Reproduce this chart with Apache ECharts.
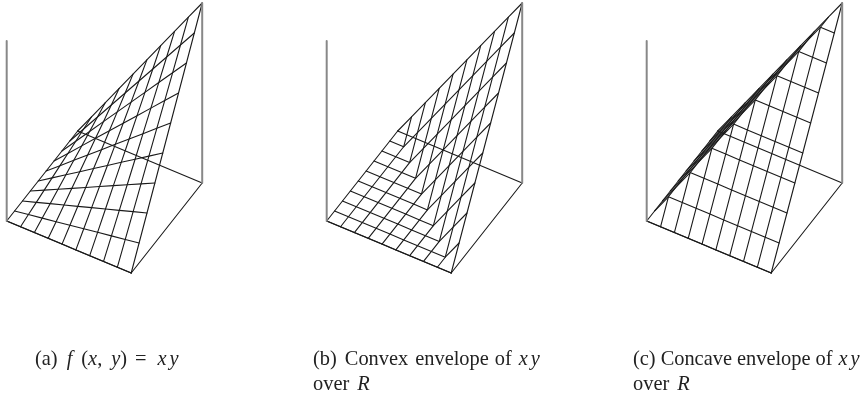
<!DOCTYPE html>
<html>
<head>
<meta charset="utf-8">
<style>html,body{margin:0;padding:0;background:#fff}#chart{width:864px;height:397px}</style>
<script src="https://cdn.jsdelivr.net/npm/echarts@6/dist/echarts.min.js"></script>
</head>
<body>
<div id="chart"></div>
<script>
// grid steps along each edge of the square R, 0..9
var steps = [0, 1, 2, 3, 4, 5, 6, 7, 8, 9]

// surface heights read per grid node, rows by y step, columns by x step
var productZ = [
  [0, 0, 0, 0, 0, 0, 0, 0, 0, 0],
  [0, 1, 2, 3, 4, 5, 6, 7, 8, 9],
  [0, 2, 4, 6, 8, 10, 12, 14, 16, 18],
  [0, 3, 6, 9, 12, 15, 18, 21, 24, 27],
  [0, 4, 8, 12, 16, 20, 24, 28, 32, 36],
  [0, 5, 10, 15, 20, 25, 30, 35, 40, 45],
  [0, 6, 12, 18, 24, 30, 36, 42, 48, 54],
  [0, 7, 14, 21, 28, 35, 42, 49, 56, 63],
  [0, 8, 16, 24, 32, 40, 48, 56, 64, 72],
  [0, 9, 18, 27, 36, 45, 54, 63, 72, 81]
]
var convexZ = [
  [0, 0, 0, 0, 0, 0, 0, 0, 0, 0],
  [0, 0, 0, 0, 0, 0, 0, 0, 0, 9],
  [0, 0, 0, 0, 0, 0, 0, 0, 9, 18],
  [0, 0, 0, 0, 0, 0, 0, 9, 18, 27],
  [0, 0, 0, 0, 0, 0, 9, 18, 27, 36],
  [0, 0, 0, 0, 0, 9, 18, 27, 36, 45],
  [0, 0, 0, 0, 9, 18, 27, 36, 45, 54],
  [0, 0, 0, 9, 18, 27, 36, 45, 54, 63],
  [0, 0, 9, 18, 27, 36, 45, 54, 63, 72],
  [0, 9, 18, 27, 36, 45, 54, 63, 72, 81]
]
var concaveZ = [
  [0, 0, 0, 0, 0, 0, 0, 0, 0, 0],
  [0, 9, 9, 9, 9, 9, 9, 9, 9, 9],
  [0, 9, 18, 18, 18, 18, 18, 18, 18, 18],
  [0, 9, 18, 27, 27, 27, 27, 27, 27, 27],
  [0, 9, 18, 27, 36, 36, 36, 36, 36, 36],
  [0, 9, 18, 27, 36, 45, 45, 45, 45, 45],
  [0, 9, 18, 27, 36, 45, 54, 54, 54, 54],
  [0, 9, 18, 27, 36, 45, 54, 63, 63, 63],
  [0, 9, 18, 27, 36, 45, 54, 63, 72, 72],
  [0, 9, 18, 27, 36, 45, 54, 63, 72, 81]
]
var surfaces = [productZ, convexZ, concaveZ]
var panelLeft = [0, 320, 640]

// {gN| } is a space N px wide, the caption word gaps differ from panel to panel
var captions = [
  '(a){g9| }{i|f}{g9| }({i|x},{g9| }{i|y}){g8| }={g11| }{i|x}{g3| }{i|y}',
  '(b){g8| }Convex{g7| }envelope{g6| }of{g7| }{i|x}{g3| }{i|y}\nover{g8| }{i|R}',
  '(c){g5| }Concave{g5| }envelope{g5| }of{g6| }{i|x}{g3| }{i|y}\nover{g8| }{i|R}'
]
var captionLeft = [35, 313, 633]

var zTop = 81
var lineColor = '#1a1a1a'
var axisColor = '#888'

// oblique view of the box, in screen pixels
function project(sx, sy, z) {
  var u = sx / 9, v = sy / 9, w = z / zTop
  return [6.7 + 124.5 * u + 71 * v, 397 - 221 + 52 * -u + 90 * v + 180 * w]
}

function lineSeries(idx, pts, color, width) {
  return {
    type: 'line',
    xAxisIndex: idx,
    yAxisIndex: idx,
    data: pts,
    showSymbol: false,
    silent: true,
    animation: false,
    clip: false,
    lineStyle: { color: color, width: width, cap: 'round', join: 'round' }
  }
}

function gap(px) {
  return { fontFamily: '"Liberation Serif"', fontSize: px * 4, lineHeight: 25 }
}

var grid = [], xAxis = [], yAxis = [], series = [], title = []

surfaces.forEach(function (z, p) {
  grid.push({ left: panelLeft[p], top: 0, width: 220, height: 397 })
  xAxis.push({ type: 'value', gridIndex: p, min: 0, max: 220, show: false })
  yAxis.push({ type: 'value', gridIndex: p, min: 0, max: 397, show: false })

  steps.forEach(function (i) {
    // line along x at y step i, line along y at x step i
    series.push(lineSeries(p, steps.map(function (j) { return project(j, i, z[i][j]) }), lineColor, 1.1))
    series.push(lineSeries(p, steps.map(function (j) { return project(i, j, z[j][i]) }), lineColor, 1.1))
  })

  // floor edges and the two upright edges
  series.push(lineSeries(p, [project(0, 0, 0), project(9, 0, 0)], lineColor, 1.3))
  series.push(lineSeries(p, [project(9, 0, 0), project(9, 9, 0)], lineColor, 1.1))
  series.push(lineSeries(p, [project(0, 9, 0), project(9, 9, 0)], lineColor, 1.1))
  series.push(lineSeries(p, [project(0, 0, 0), project(0, 0, zTop)], axisColor, 2))
  series.push(lineSeries(p, [project(9, 9, 0), project(9, 9, zTop)], axisColor, 2))

  title.push({
    text: captions[p],
    left: captionLeft[p],
    top: 347,
    padding: 0,
    textStyle: {
      fontFamily: '"Liberation Serif"',
      fontSize: 20.4,
      fontWeight: 'normal',
      color: '#222',
      lineHeight: 25,
      rich: {
        i: { fontFamily: '"Liberation Serif"', fontStyle: 'italic', fontSize: 20.4, color: '#222', lineHeight: 25 },
        g3: gap(3), g5: gap(5), g6: gap(6), g7: gap(7), g8: gap(8), g9: gap(9), g11: gap(11)
      }
    }
  })
})

var chart = echarts.init(document.getElementById('chart'), null, { renderer: 'canvas' })
chart.setOption({
  animation: false,
  backgroundColor: '#fff',
  title: title,
  grid: grid,
  xAxis: xAxis,
  yAxis: yAxis,
  series: series
})
</script>
</body>
</html>
